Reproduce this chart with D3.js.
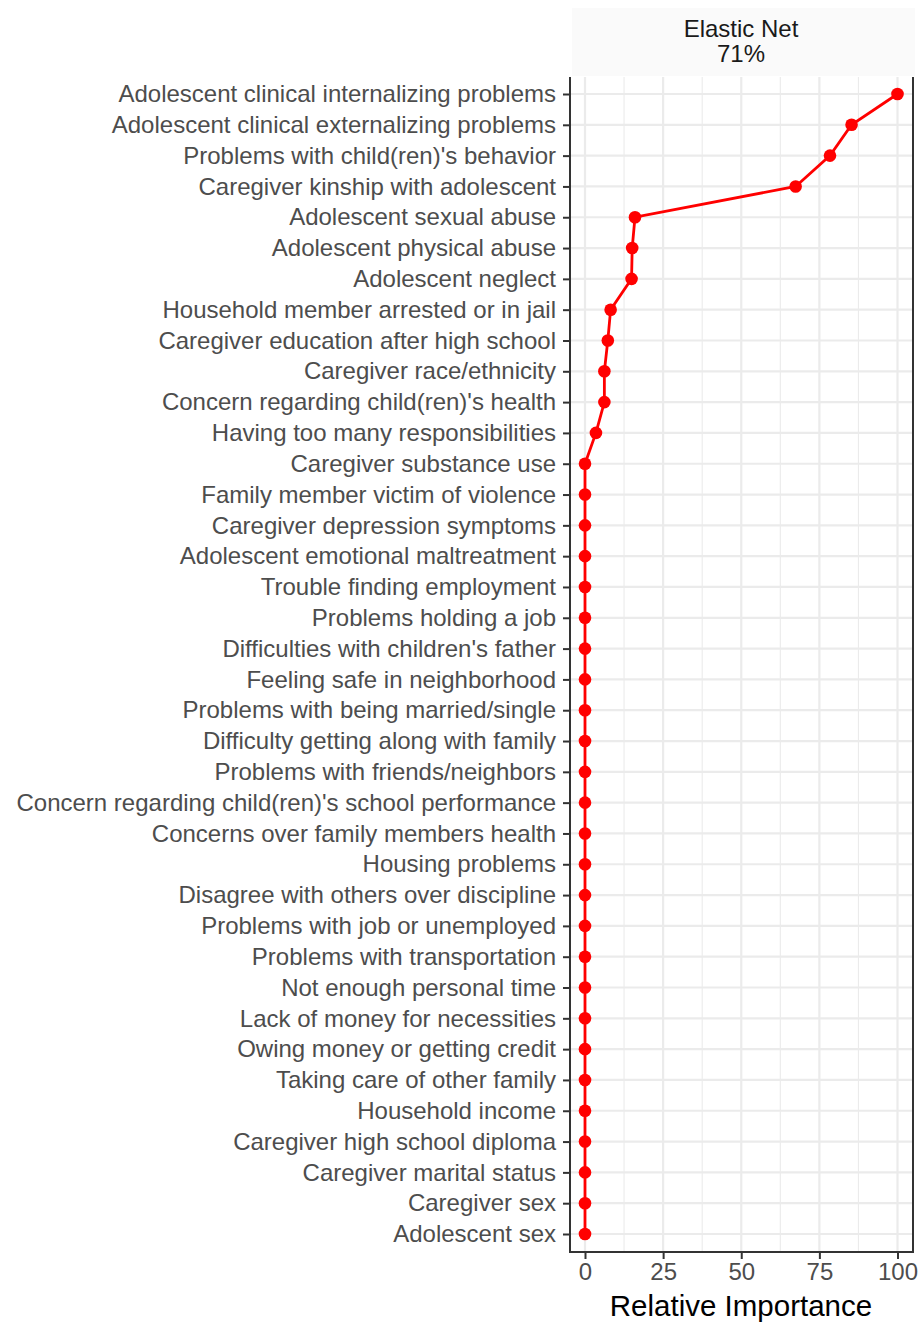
<!DOCTYPE html>
<html><head><meta charset="utf-8">
<script src="https://cdn.jsdelivr.net/npm/d3@7"></script>
<style>body{margin:0;background:#fff}svg{display:block}text{font-family:"Liberation Sans",Arial,sans-serif}</style>
</head><body>
<script>
const categories = [
"Adolescent clinical internalizing problems",
"Adolescent clinical externalizing problems",
"Problems with child(ren)'s behavior",
"Caregiver kinship with adolescent",
"Adolescent sexual abuse",
"Adolescent physical abuse",
"Adolescent neglect",
"Household member arrested or in jail",
"Caregiver education after high school",
"Caregiver race/ethnicity",
"Concern regarding child(ren)'s health",
"Having too many responsibilities",
"Caregiver substance use",
"Family member victim of violence",
"Caregiver depression symptoms",
"Adolescent emotional maltreatment",
"Trouble finding employment",
"Problems holding a job",
"Difficulties with children's father",
"Feeling safe in neighborhood",
"Problems with being married/single",
"Difficulty getting along with family",
"Problems with friends/neighbors",
"Concern regarding child(ren)'s school performance",
"Concerns over family members health",
"Housing problems",
"Disagree with others over discipline",
"Problems with job or unemployed",
"Problems with transportation",
"Not enough personal time",
"Lack of money for necessities",
"Owing money or getting credit",
"Taking care of other family",
"Household income",
"Caregiver high school diploma",
"Caregiver marital status",
"Caregiver sex",
"Adolescent sex"
];
const importance = [100,85.3,78.4,67.4,16.0,15.1,14.9,8.2,7.3,6.2,6.2,3.5,
0,0,0,0,0,0,0,0,0,0,0,0,0,0,0,0,0,0,0,0,0,0,0,0,0,0];
const xTicks = [0,25,50,75,100];
const stripLines = ["Elastic Net","71%"];

const W=923,H=1322;
const svg=d3.select("body").append("svg").attr("width",W).attr("height",H);
const pL=570,pR=913,pT=77,pB=1252;
const x=d3.scaleLinear().domain([0,100]).range([585,897.5]);
const y=d3.scalePoint().domain(categories).range([94,1234]);
const FS=24;

// strip
svg.append("rect").attr("x",572).attr("y",8).attr("width",343).attr("height",68).attr("fill","#fafafa");
svg.append("text").attr("x",741).attr("y",37).attr("text-anchor","middle").attr("font-size",FS).attr("fill","#1a1a1a").text(stripLines[0]);
svg.append("text").attr("x",741).attr("y",62).attr("text-anchor","middle").attr("font-size",FS).attr("fill","#1a1a1a").text(stripLines[1]);

// grid
const g=svg.append("g");
const minor=[12.5,37.5,62.5,87.5];
g.selectAll(".minv").data(minor).join("line").attr("x1",d=>x(d)).attr("x2",d=>x(d)).attr("y1",pT).attr("y2",pB).attr("stroke","#ebebeb").attr("stroke-width",1.1);
g.selectAll(".majv").data(xTicks).join("line").attr("x1",d=>x(d)).attr("x2",d=>x(d)).attr("y1",pT).attr("y2",pB).attr("stroke","#ebebeb").attr("stroke-width",2.2);
g.selectAll(".majh").data(categories).join("line").attr("x1",pL).attr("x2",pR).attr("y1",d=>y(d)).attr("y2",d=>y(d)).attr("stroke","#ebebeb").attr("stroke-width",2.2);

// line & points
const data=categories.map((c,i)=>({c,v:importance[i]}));
svg.append("path").datum(data).attr("fill","none").attr("stroke","#ff0000").attr("stroke-width",2.8)
 .attr("d",d3.line().x(d=>x(d.v)).y(d=>y(d.c)));
svg.selectAll(".pt").data(data).join("circle").attr("cx",d=>x(d.v)).attr("cy",d=>y(d.c)).attr("r",6.3).attr("fill","#ff0000");

// axes
const ya=svg.append("g").attr("transform",`translate(${pL},0)`).call(d3.axisLeft(y).tickSize(7).tickPadding(7));
ya.select(".domain").remove();
ya.selectAll(".tick line").attr("stroke","#333").attr("stroke-width",2);
ya.selectAll(".tick text").attr("font-size",FS).attr("fill","#4d4d4d").attr("font-family","Liberation Sans, Arial, sans-serif");

const xa=svg.append("g").attr("transform",`translate(0,${pB})`).call(d3.axisBottom(x).tickValues(xTicks).tickSize(7).tickPadding(4));
xa.select(".domain").remove();
xa.selectAll(".tick line").attr("stroke","#333").attr("stroke-width",2);
xa.selectAll(".tick text").attr("font-size",FS).attr("fill","#4d4d4d").attr("font-family","Liberation Sans, Arial, sans-serif");

// borders
svg.append("line").attr("x1",pL).attr("x2",pL).attr("y1",pT).attr("y2",pB+1).attr("stroke","#333").attr("stroke-width",2);
svg.append("line").attr("x1",pR).attr("x2",pR).attr("y1",pT).attr("y2",pB+1).attr("stroke","#333").attr("stroke-width",2);
svg.append("line").attr("x1",pL-1).attr("x2",pR+1).attr("y1",pB).attr("y2",pB).attr("stroke","#333").attr("stroke-width",2);

svg.append("text").attr("x",741).attr("y",1316).attr("text-anchor","middle").attr("font-size",29.5).attr("fill","#000").text("Relative Importance");
</script>
</body></html>
